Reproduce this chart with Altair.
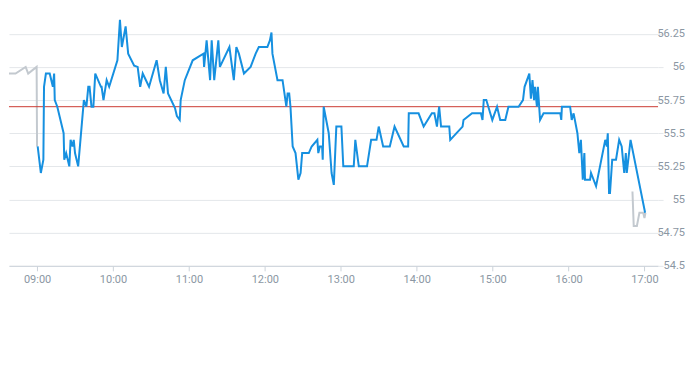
import altair as alt
import pandas as pd

DAY = "2024-01-02T"

# pre-market (grey)
pre_times = ["08:31:30", "08:34:00", "08:43:00", "08:51:00", "08:53:00", "08:59:40", "09:00:00"]
pre_values = [55.72, 55.95, 55.95, 56.00, 55.95, 56.00, 55.40]

# regular session (blue)
main_times = [
    "09:00:30", "09:03:00", "09:05:00", "09:05:30", "09:07:00", "09:10:00", "09:12:30", "09:13:30", "09:14:00", "09:16:00",
    "09:21:00", "09:21:30", "09:23:00", "09:25:30", "09:26:30", "09:28:00", "09:29:00", "09:30:00", "09:32:30", "09:37:00",
    "09:39:00", "09:40:30", "09:41:30", "09:43:00", "09:44:30", "09:46:00", "09:50:30", "09:51:00", "09:52:30", "09:55:00",
    "09:57:00", "10:03:30", "10:05:30", "10:07:00", "10:10:00", "10:12:00", "10:16:45", "10:19:30", "10:21:30", "10:23:30",
    "10:28:30", "10:34:30", "10:37:00", "10:40:00", "10:41:45", "10:43:30", "10:49:00", "10:50:30", "10:52:45", "10:53:30",
    "10:56:45", "11:03:00", "11:11:30", "11:12:00", "11:14:00", "11:16:45", "11:18:00", "11:20:00", "11:23:15", "11:24:30",
    "11:32:00", "11:35:30", "11:37:30", "11:39:30", "11:43:30", "11:48:45", "11:52:45", "11:55:15", "12:02:00", "12:04:00",
    "12:05:15", "12:06:00", "12:10:00", "12:14:00", "12:17:00", "12:18:00", "12:19:15", "12:20:15", "12:22:00", "12:24:15",
    "12:26:30", "12:28:15", "12:29:30", "12:34:45", "12:37:00", "12:41:30", "12:42:15", "12:43:30", "12:45:15", "12:45:45",
    "12:46:30", "12:50:30", "12:52:45", "12:54:30", "12:56:30", "13:00:30", "13:02:00", "13:10:15", "13:11:30", "13:14:15",
    "13:20:45", "13:24:00", "13:28:15", "13:30:00", "13:33:30", "13:38:45", "13:42:30", "13:49:45", "13:53:15", "13:53:45",
    "14:01:30", "14:05:30", "14:12:00", "14:14:00", "14:16:00", "14:17:45", "14:19:15", "14:25:45", "14:26:30", "14:36:15",
    "14:37:00", "14:43:45", "14:50:45", "14:52:00", "14:53:00", "14:55:00", "14:59:45", "15:03:30", "15:06:00", "15:10:00",
    "15:12:30", "15:20:30", "15:24:00", "15:25:15", "15:29:00", "15:30:15", "15:31:30", "15:32:45", "15:33:30", "15:35:00",
    "15:35:45", "15:37:30", "15:40:15", "15:53:30", "15:54:15", "15:54:45", "16:01:15", "16:02:30", "16:04:00", "16:07:00",
    "16:08:30", "16:09:45", "16:11:15", "16:12:30", "16:13:00", "16:17:00", "16:17:45", "16:21:45", "16:29:00", "16:30:15",
    "16:31:00", "16:32:00", "16:32:45", "16:34:30", "16:37:30", "16:40:00", "16:42:00", "16:44:00", "16:45:15", "16:46:00",
    "16:49:00", "17:00:30",
]
main_values = [
    55.40, 55.20, 55.30, 55.85, 55.95, 55.95, 55.85, 55.95, 55.75, 55.70,
    55.50, 55.30, 55.35, 55.25, 55.45, 55.40, 55.45, 55.35, 55.25, 55.75,
    55.70, 55.85, 55.85, 55.70, 55.70, 55.95, 55.85, 55.85, 55.75, 55.90,
    55.85, 56.05, 56.355, 56.15, 56.305, 56.10, 56.01, 56.00, 55.85, 55.95,
    55.85, 56.05, 55.90, 55.80, 56.00, 55.80, 55.69, 55.63, 55.60, 55.75,
    55.90, 56.05, 56.10, 56.00, 56.20, 55.90, 56.20, 55.90, 56.20, 56.00,
    56.15, 55.90, 56.15, 56.10, 55.95, 56.00, 56.10, 56.15, 56.15, 56.20,
    56.26, 56.10, 55.90, 55.90, 55.70, 55.80, 55.80, 55.70, 55.40, 55.35,
    55.15, 55.20, 55.35, 55.35, 55.40, 55.45, 55.35, 55.40, 55.40, 55.30,
    55.70, 55.50, 55.20, 55.11, 55.55, 55.55, 55.25, 55.25, 55.45, 55.25,
    55.25, 55.45, 55.45, 55.55, 55.40, 55.40, 55.55, 55.40, 55.40, 55.65,
    55.65, 55.55, 55.65, 55.65, 55.55, 55.70, 55.55, 55.55, 55.45, 55.55,
    55.60, 55.65, 55.65, 55.60, 55.75, 55.75, 55.60, 55.70, 55.60, 55.60,
    55.70, 55.70, 55.75, 55.85, 55.95, 55.76, 55.90, 55.75, 55.85, 55.70,
    55.85, 55.60, 55.65, 55.65, 55.60, 55.70, 55.70, 55.60, 55.65, 55.50,
    55.35, 55.45, 55.15, 55.35, 55.15, 55.15, 55.20, 55.10, 55.45, 55.40,
    55.50, 55.05, 55.05, 55.30, 55.30, 55.45, 55.40, 55.20, 55.35, 55.20,
    55.45, 54.90,
]

# after-hours (grey)
post_times = ["16:50:30", "16:51:30", "16:54:00", "16:56:00", "16:59:00", "17:00:00", "17:00:45"]
post_values = [55.06, 54.80, 54.80, 54.90, 54.90, 54.86, 54.90]

reference_level = [55.70]

y_ticks = [54.5, 54.75, 55.0, 55.25, 55.5, 55.75, 56.0, 56.25]
x_tick_hours = [9, 10, 11, 12, 13, 14, 15, 16, 17]

pre_df = pd.DataFrame({"t": [DAY + s for s in pre_times], "v": pre_values})
main_df = pd.DataFrame({"t": [DAY + s for s in main_times], "v": main_values})
post_df = pd.DataFrame({"t": [DAY + s for s in post_times], "v": post_values})
ref_df = pd.DataFrame({"v": reference_level})

FONT = "Roboto"
LABEL_COLOR = "#8b97a3"
GRID = "#e4e7ea"

x_scale = alt.Scale(
    domain=[
        alt.DateTime(year=2024, month=1, date=2, hours=8, minutes=37, seconds=50),
        alt.DateTime(year=2024, month=1, date=2, hours=17, minutes=10, seconds=43),
    ]
)
y_scale = alt.Scale(domain=[54.5, 56.4427], nice=False, zero=False)

x_axis = alt.Axis(
    title=None,
    format="%H:%M",
    values=[alt.DateTime(year=2024, month=1, date=2, hours=h) for h in x_tick_hours],
    grid=False,
    domain=True,
    domainColor="#ccd3da",
    ticks=True,
    tickColor="#ccd3da",
    tickSize=5,
    labelPadding=3,
    labelColor=LABEL_COLOR,
    labelFont=FONT,
    labelFontSize=11,
    labelOverlap=False,
)
y_axis = alt.Axis(
    title=None,
    orient="right",
    values=y_ticks,
    format=".2~f",
    grid=True,
    gridColor=GRID,
    domain=False,
    ticks=True,
    tickColor=GRID,
    tickSize=5,
    labelAlign="right",
    labelPadding=21.5,
    labelColor=LABEL_COLOR,
    labelFont=FONT,
    labelFontSize=11,
)

def line(df, color):
    return alt.Chart(df).mark_line(color=color, strokeWidth=2, clip=True).encode(
        x=alt.X("t:T", scale=x_scale, axis=x_axis),
        y=alt.Y("v:Q", scale=y_scale, axis=y_axis),
    )

grey = "#c3c9cf"
blue = "#1690e0"

rule = alt.Chart(ref_df).mark_rule(color="#cc3b33", strokeWidth=1).encode(
    y=alt.Y("v:Q", scale=y_scale, axis=y_axis)
)

chart = alt.layer(
    line(pre_df, grey),
    line(post_df, grey),
    rule,
    line(main_df, blue),
).properties(
    width=650,
    height=258,
    padding={"left": 0, "top": 0, "right": 0, "bottom": 0},
).configure_view(stroke=None)

chart.save("out.html", embed_options={"renderer": "svg", "actions": False})
